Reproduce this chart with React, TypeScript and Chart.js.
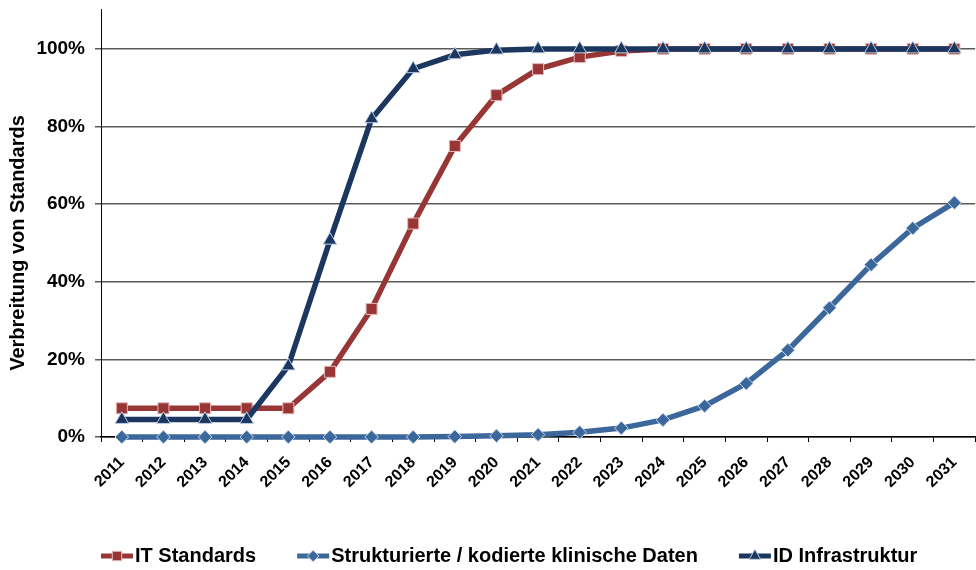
import React, { useEffect, useRef } from 'react';
import { Chart, registerables } from 'chart.js';

Chart.register(...registerables);

const years = ['2011', '2012', '2013', '2014', '2015', '2016', '2017', '2018', '2019', '2020', '2021', '2022', '2023', '2024', '2025', '2026', '2027', '2028', '2029', '2030', '2031'];
const itStandards = [7.4, 7.4, 7.4, 7.4, 7.4, 16.8, 33, 55, 75, 88.1, 94.8, 97.9, 99.5, 100, 100, 100, 100, 100, 100, 100, 100];
const strukturiert = [0, 0, 0, 0, 0, 0, 0, 0, 0.1, 0.3, 0.6, 1.2, 2.3, 4.4, 8, 13.8, 22.4, 33.3, 44.4, 53.8, 60.4];
const idInfrastruktur = [4.5, 4.5, 4.5, 4.5, 18.3, 50.7, 82, 94.9, 98.5, 99.7, 100, 100, 100, 100, 100, 100, 100, 100, 100, 100, 100];
const seriesNames = ['IT Standards', 'Strukturierte / kodierte klinische Daten', 'ID Infrastruktur'];
const yTickValues = [0, 20, 40, 60, 80, 100];
const yAxisMax = 110.3;
const yTitle = 'Verbreitung von Standards';

const FONT = '"Liberation Sans", Arial, sans-serif';
const RED = '#973634';
const BLUE = '#3B679B';
const NAVY = '#1B375F';

function drawMarker(ctx: CanvasRenderingContext2D, style: string, x: number, y: number, r: number, fill: string, stroke: string) {
  ctx.save();
  ctx.beginPath();
  if (style === 'rect') {
    const s = Math.SQRT1_2 * r;
    ctx.rect(x - s, y - s, 2 * s, 2 * s);
  } else if (style === 'rectRot') {
    ctx.moveTo(x, y - r);
    ctx.lineTo(x + r, y);
    ctx.lineTo(x, y + r);
    ctx.lineTo(x - r, y);
    ctx.closePath();
  } else {
    ctx.moveTo(x, y - r);
    ctx.lineTo(x + r * Math.sin((2 * Math.PI) / 3), y - r * Math.cos((2 * Math.PI) / 3));
    ctx.lineTo(x + r * Math.sin((4 * Math.PI) / 3), y - r * Math.cos((4 * Math.PI) / 3));
    ctx.closePath();
  }
  ctx.fillStyle = fill;
  ctx.fill();
  ctx.lineWidth = 1;
  ctx.strokeStyle = stroke;
  ctx.stroke();
  ctx.restore();
}

const legendAndTitlePlugin = {
  id: 'legendAndTitle',
  afterDraw(chart: any) {
    const ctx: CanvasRenderingContext2D = chart.ctx;
    const yScale = chart.scales.y;
    // y axis title
    const cy = (yScale.getPixelForValue(0) + yScale.getPixelForValue(100)) / 2;
    ctx.save();
    ctx.translate(18, cy);
    ctx.rotate(-Math.PI / 2);
    ctx.font = `bold 20px ${FONT}`;
    ctx.fillStyle = '#000';
    ctx.textAlign = 'center';
    ctx.textBaseline = 'middle';
    ctx.fillText(yTitle, 0, 0);
    ctx.restore();

    // legend
    const ly = 556;
    let x = chart.chartArea.left;
    ctx.save();
    ctx.font = `bold 20px ${FONT}`;
    ctx.textBaseline = 'middle';
    ctx.textAlign = 'left';
    chart.data.datasets.forEach((ds: any) => {
      ctx.beginPath();
      ctx.moveTo(x, ly);
      ctx.lineTo(x + 32, ly);
      ctx.strokeStyle = ds.borderColor;
      ctx.lineWidth = 5;
      ctx.stroke();
      drawMarker(ctx, ds.pointStyle, x + 16, ly, ds.pointRadius * 0.85, ds.pointBackgroundColor, ds.pointBorderColor);
      ctx.fillStyle = '#000';
      ctx.fillText(ds.label, x + 34, ly);
      x += 34 + ctx.measureText(ds.label).width + 41;
    });
    ctx.restore();
  },
};

export default function App() {
  const canvasRef = useRef<HTMLCanvasElement | null>(null);

  useEffect(() => {
    const canvas = canvasRef.current;
    if (!canvas) return;
    const chart = new Chart(canvas, {
      type: 'line',
      data: {
        labels: years,
        datasets: [
          {
            label: seriesNames[0],
            data: itStandards,
            borderColor: RED,
            borderWidth: 5.5,
            pointStyle: 'rect',
            pointRadius: 7.8,
            pointBackgroundColor: RED,
            pointBorderColor: '#E6B9B8',
            pointBorderWidth: 1,
            tension: 0,
            clip: false,
            order: 2,
          } as any,
          {
            label: seriesNames[1],
            data: strukturiert,
            borderColor: BLUE,
            borderWidth: 5.5,
            pointStyle: 'rectRot',
            pointRadius: 6.8,
            pointBackgroundColor: BLUE,
            pointBorderColor: '#C6D9F1',
            pointBorderWidth: 1,
            tension: 0,
            clip: false,
            order: 1,
          } as any,
          {
            label: seriesNames[2],
            data: idInfrastruktur,
            borderColor: NAVY,
            borderWidth: 5.5,
            pointStyle: 'triangle',
            pointRadius: 7.8,
            pointBackgroundColor: NAVY,
            pointBorderColor: '#B9CDE5',
            pointBorderWidth: 1,
            tension: 0,
            clip: false,
            order: 0,
          } as any,
        ],
      },
      options: {
        responsive: false,
        animation: false,
        devicePixelRatio: 1,
        layout: { padding: { top: 9, left: 0, right: 2, bottom: 0 } },
        plugins: {
          legend: { display: false },
          tooltip: { enabled: false },
          title: { display: false },
        },
        scales: {
          x: {
            type: 'category',
            offset: true,
            afterFit: (scale: any) => {
              scale.height = 133;
              scale.paddingLeft = 0;
              scale.paddingRight = 0;
            },
            grid: {
              offset: true,
              drawOnChartArea: false,
              drawTicks: true,
              tickLength: 5,
              color: '#000',
            },
            border: { display: true, color: '#000', width: 1.5 },
            ticks: {
              autoSkip: false,
              minRotation: 45,
              maxRotation: 45,
              padding: 11,
              color: '#000',
              font: { family: FONT, size: 16, weight: 'bold' },
            },
          },
          y: {
            min: 0,
            max: yAxisMax,
            afterFit: (scale: any) => {
              scale.width = 101;
              scale.paddingTop = 0;
              scale.paddingBottom = 0;
            },
            afterBuildTicks: (scale: any) => {
              scale.ticks = yTickValues.map((v) => ({ value: v }));
            },
            grid: {
              color: '#5A5A5A',
              lineWidth: 1.5,
              drawTicks: true,
              tickLength: 6,
            },
            border: { display: true, color: '#000', width: 1 },
            ticks: {
              padding: 10,
              color: '#000',
              font: { family: FONT, size: 19, weight: 'bold' },
              callback: (v: any) => `${v}%`,
            },
          },
        },
      },
      plugins: [legendAndTitlePlugin],
    } as any);
    return () => chart.destroy();
  }, []);

  return (
    <div style={{ position: 'fixed', left: 0, top: 0, width: 976, height: 570, overflow: 'hidden', background: '#fff' }}>
      <canvas ref={canvasRef} width={984} height={570} style={{ display: 'block', width: 984, height: 570 }} />
    </div>
  );
}
